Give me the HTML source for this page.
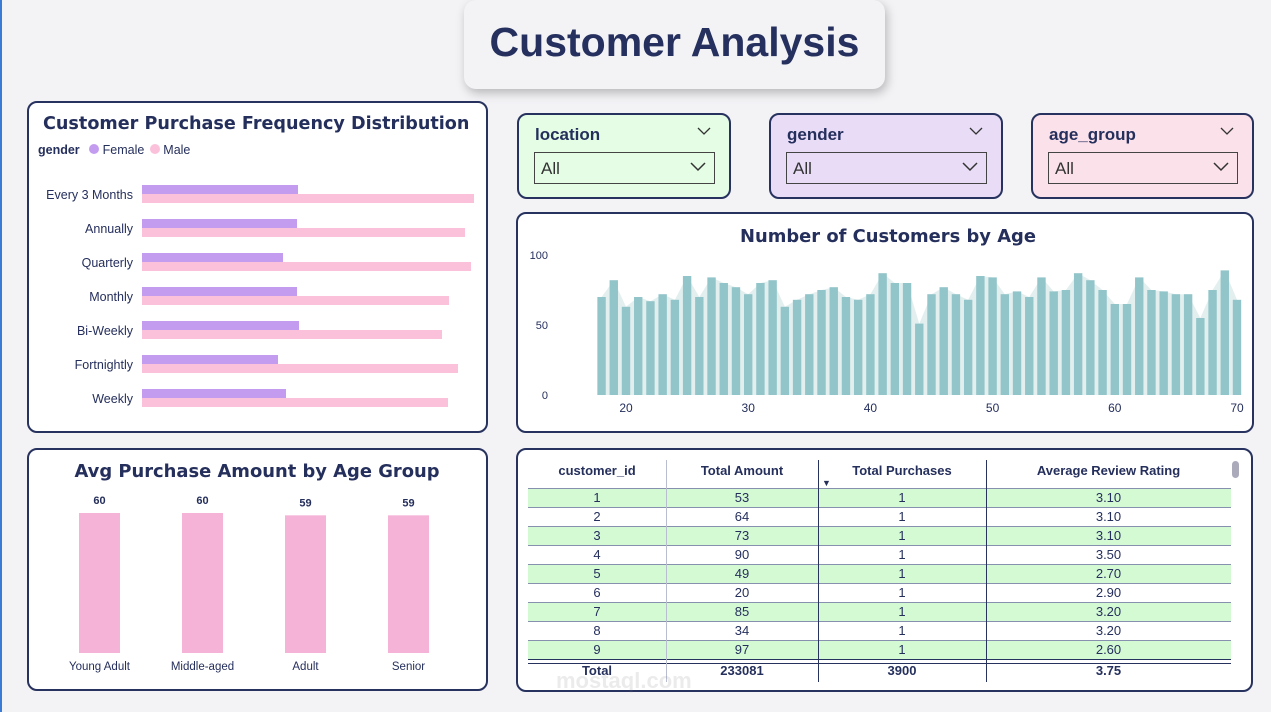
<!DOCTYPE html>
<html><head><meta charset="utf-8">
<style>
body{margin:0;width:1271px;height:712px;background:#f3f3f6;font-family:"Liberation Sans",sans-serif;position:relative;overflow:hidden;color:#252f5c}
.panel{position:absolute;background:#fff;border:2.5px solid #27325e;border-radius:10px;box-sizing:border-box}
.t{position:absolute;white-space:nowrap}
.slicer{position:absolute;border:2px solid #27325e;border-radius:10px;box-sizing:border-box}
.slicer .lbl{position:absolute;left:16px;top:10px;font-weight:bold;font-size:17px}
.slicer .box{position:absolute;left:15px;top:37px;right:14px;height:32px;border:1.5px solid #444;box-sizing:border-box;font-size:17px;padding:6px 0 0 6px;color:#333}
.chev{position:absolute}
</style></head><body>
<div class="t" style="left:0;top:0;width:2px;height:712px;background:#3a7bd5"></div>
<div style="position:absolute;left:464px;top:0;width:421px;height:89px;background:#f3f3f6;border-radius:12px;box-shadow:2px 4px 10px rgba(0,0,0,0.25)">
<div class="t" style="left:0;width:421px;top:19px;text-align:center;font-size:41px;font-weight:bold;color:#25305e">Customer Analysis</div></div>

<div class="panel" style="left:27px;top:101px;width:461px;height:332px">
<div class="t" style="left:14px;top:11px;font-size:17.6px;font-weight:900;font-family:'DejaVu Sans',sans-serif">Customer Purchase Frequency Distribution</div>
<div class="t" style="left:9px;top:40px;font-size:12.5px">
<b>gender</b>
<span style="margin-left:6px"><span style="display:inline-block;width:10px;height:10px;border-radius:50%;background:#c39cf0"></span> Female</span>
<span style="margin-left:2px"><span style="display:inline-block;width:10px;height:10px;border-radius:50%;background:#fbc1da"></span> Male</span></div>
</div>
<svg id="freq" style="position:absolute;left:0;top:0" width="500" height="440"></svg>

<div class="panel" style="left:27px;top:448px;width:461px;height:243px">
<div class="t" style="left:0;width:456px;text-align:center;top:11px;font-size:17.9px;font-weight:900;font-family:'DejaVu Sans',sans-serif">Avg Purchase Amount by Age Group</div></div>
<svg id="avg" style="position:absolute;left:0;top:440px" width="500" height="250"></svg>

<div class="slicer" style="left:517px;top:113px;width:214px;height:86px;background:#e4fde4"><div class="lbl">location</div>
<svg class="chev" style="right:18px;top:12px" width="14" height="9"><polyline points="1,1 7,7 13,1" fill="none" stroke="#333" stroke-width="1.3"/></svg>
<div class="box">All<svg class="chev" style="right:8px;top:9px" width="16" height="10"><polyline points="1,1 8,8 15,1" fill="none" stroke="#333" stroke-width="1.5"/></svg></div></div>
<div class="slicer" style="left:769px;top:113px;width:234px;height:86px;background:#e8dcf7"><div class="lbl">gender</div>
<svg class="chev" style="right:18px;top:12px" width="14" height="9"><polyline points="1,1 7,7 13,1" fill="none" stroke="#333" stroke-width="1.3"/></svg>
<div class="box">All<svg class="chev" style="right:8px;top:9px" width="16" height="10"><polyline points="1,1 8,8 15,1" fill="none" stroke="#333" stroke-width="1.5"/></svg></div></div>
<div class="slicer" style="left:1031px;top:113px;width:223px;height:86px;background:#fbe1ea"><div class="lbl">age_group</div>
<svg class="chev" style="right:18px;top:12px" width="14" height="9"><polyline points="1,1 7,7 13,1" fill="none" stroke="#333" stroke-width="1.3"/></svg>
<div class="box">All<svg class="chev" style="right:8px;top:9px" width="16" height="10"><polyline points="1,1 8,8 15,1" fill="none" stroke="#333" stroke-width="1.5"/></svg></div></div>

<div class="panel" style="left:516px;top:212px;width:738px;height:221px">
<div class="t" style="left:0;width:740px;text-align:center;top:12px;font-size:17.9px;font-weight:900;font-family:'DejaVu Sans',sans-serif">Number of Customers by Age</div></div>
<svg id="age" style="position:absolute;left:516px;top:212px" width="738" height="221"></svg>

<div class="panel" style="left:516px;top:448px;width:737px;height:244px"></div>
<div id="tbl" style="position:absolute;left:528px;top:458px;width:703px;height:228px;font-size:13px"></div>
<div class="t" style="left:1232px;top:461px;width:7px;height:17px;border-radius:4px;background:#aab"></div>

<script>
const NS='http://www.w3.org/2000/svg';
function mk(p,tag,a,txt){const e=document.createElementNS(NS,tag);for(const k in a)e.setAttribute(k,a[k]);if(txt!==undefined)e.textContent=txt;p.appendChild(e);return e;}

// Frequency chart data
const freqCats=['Every 3 Months','Annually','Quarterly','Monthly','Bi-Weekly','Fortnightly','Weekly'];
const femaleVals=[156,155,141,155,157,136,144];
const maleVals=[332,323,329,307,300,316,306];
(function(){
 const s=document.getElementById('freq');
 const x0=142, pxPer=1.0, yTop=185, step=34, bh=9;
 const xs=v=>v*pxPer;
 freqCats.forEach((c,i)=>{
  const y=yTop+i*step;
  const l=mk(s,'text',{x:133,y:y+14,'text-anchor':'end','font-size':12.5,fill:'#252f5c','font-family':'Liberation Sans'},c);
  
  
  const f=mk(s,'rect',{x:x0,y:y,width:xs(femaleVals[i]),height:bh,fill:'#c39cf0'});
  
  
  const m=mk(s,'rect',{x:x0,y:y+bh,width:xs(maleVals[i]),height:bh,fill:'#fbc1da'});
  
  
 });
})();

// Avg purchase data
const ageGroups=['Young Adult','Middle-aged','Adult','Senior'];
const avgVals=[60,60,59,59];
(function(){
 const s=document.getElementById('avg');
 const base=213, sc=140/60, x0=79, step=103, bw=41;
 ageGroups.forEach((g,i)=>{
  const h=avgVals[i]*sc, x=x0+i*step;
  const b=mk(s,'rect',{x:x,y:base-h,width:bw,height:h,fill:'#f5b3d8'});
  
  
  const v=mk(s,'text',{x:x+bw/2,y:base-h-9,'text-anchor':'middle','font-size':11,'font-weight':'bold',fill:'#252f5c'},avgVals[i]);
  
  
  const l=mk(s,'text',{x:x+bw/2,y:230,'text-anchor':'middle','font-size':11.5,fill:'#252f5c'},g);
  
  
 });
})();

// Age chart data
const ages=[18,19,20,21,22,23,24,25,26,27,28,29,30,31,32,33,34,35,36,37,38,39,40,41,42,43,44,45,46,47,48,49,50,51,52,53,54,55,56,57,58,59,60,61,62,63,64,65,66,67,68,69,70];
const counts=[70,82,63,70,67,72,68,85,70,84,80,77,72,80,82,63,68,72,75,77,70,68,72,87,80,80,51,72,77,72,68,85,84,72,74,70,84,74,75,87,82,75,65,65,84,75,74,72,72,55,75,89,68];
const yTicks=[0,50,100];
const xTicks=[20,30,40,50,60,70];
(function(){
 const s=document.getElementById('age');
 const xs=a=>110+(a-20)*12.22, ys=v=>183-v*1.4, bw=8.4;
 yTicks.forEach(t=>{const e=mk(s,'text',{x:32,y:ys(t)+4,'text-anchor':'end','font-size':11,fill:'#252f5c'},t);
  
  });
 xTicks.forEach(t=>{const e=mk(s,'text',{x:xs(t),y:200,'text-anchor':'middle','font-size':12,fill:'#252f5c'},t);
  
  });
 let d='M'+(xs(ages[0])-bw/2)+','+ys(0);
 ages.forEach((a,i)=>{d+=' L'+xs(a)+','+ys(counts[i]);});
 d+=' L'+(xs(ages[ages.length-1])+bw/2)+','+ys(0)+'Z';
 const ar=mk(s,'path',{d:d,fill:'#e3efef'});
 
 
 ages.forEach((a,i)=>{
  const b=mk(s,'rect',{x:xs(a)-bw/2,y:ys(counts[i]),width:bw,height:counts[i]*1.4,fill:'#92c5c9'});
  
  
 });
})();

// Table
const ids=[1,2,3,4,5,6,7,8,9];
const amounts=[53,64,73,90,49,20,85,34,97];
const purchases=[1,1,1,1,1,1,1,1,1];
const ratings=['3.10','3.10','3.10','3.50','2.70','2.90','3.20','3.20','2.60'];
(function(){
 const t=document.getElementById('tbl');
 const cols=[0,138,290,458,703];
 const heads=['customer_id','Total Amount','Total Purchases','Average Review Rating'];
 function cell(txt,i,top,h,bold,name){
  const c=document.createElement('div');
  
  
  c.style.cssText='position:absolute;left:'+cols[i]+'px;width:'+(cols[i+1]-cols[i])+'px;top:'+top+'px;height:'+h+'px;line-height:'+h+'px;text-align:center;'+(bold?'font-weight:bold;':'');
  c.textContent=txt;t.appendChild(c);
 }
 heads.forEach((h,i)=>cell(h,i,0,26,true,'column-header'));
 const ar=document.createElement('div');ar.style.cssText='position:absolute;left:294px;top:20px;font-size:9px';ar.textContent='▼';
 
 
 t.appendChild(ar);
 ids.forEach((id,r)=>{
  const top=30+r*19;
  const bg=document.createElement('div');
  
  
  bg.style.cssText='position:absolute;left:0;width:703px;top:'+top+'px;height:19px;background:'+(r%2==0?'#d4fad4':'#fff')+';border-top:1px solid #8890b0;box-sizing:border-box';
  t.appendChild(bg);
  [id,amounts[r],purchases[r],ratings[r]].forEach((v,i)=>cell(v,i,top,19,false,'table-cell'));
 });
 const ln=document.createElement('div');ln.style.cssText='position:absolute;left:0;width:703px;top:201px;height:3px;border-top:1px solid #27325e;border-bottom:1px solid #27325e';t.appendChild(ln);
 ['Total','233081','3900','3.75'].forEach((v,i)=>cell(v,i,204,18,true,'total-cell'));
 [1,2,3].forEach(i=>{const v=document.createElement('div');v.style.cssText='position:absolute;left:'+cols[i]+'px;top:2px;width:1px;height:222px;background:'+(i==1?'#b8bdd0':'#27325e');t.appendChild(v);});
})();
</script>
<div class="t" style="left:556px;top:668px;font-size:22px;color:rgba(120,120,120,0.15);font-weight:bold">mostaql.com</div>
</body></html>
